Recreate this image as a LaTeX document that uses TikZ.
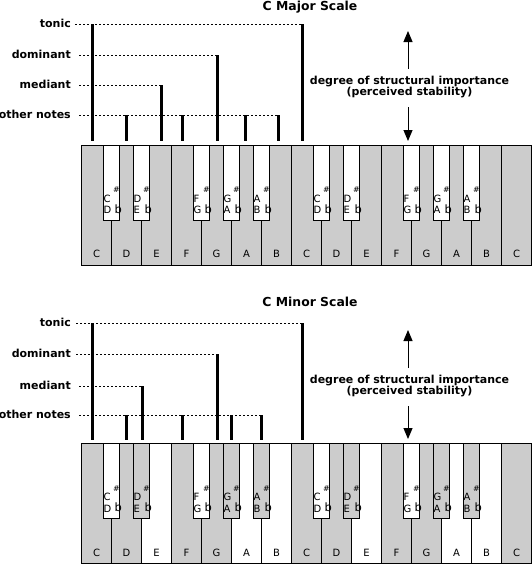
\documentclass[tikz,border=0pt]{standalone}
\usepackage{fontspec}
\setmainfont{DejaVu Sans}
\usetikzlibrary{arrows.meta}
\newcommand\pianokeys[4]{%
  \foreach \n/\s [count=\i from 0] in {#3} {
    \node[whitekey,\s] (#1w\i) at ({81.5+30*\i},#2) {};
  }
  \foreach \n/\s [count=\i from 0] in {#3} {
    \node[keyletter,anchor=base] (#1wl\i) at ({96.5+30*\i},#2+112.5) {\n};
  }
  \foreach \k/\u/\l/\s in {#4} {
    \node[blackkey,\s] (#1b\k) at ({81.5+30*\k},#2) {};
    \node[keyletter,anchor=base west] (#1bu\k) at ({73.5+30*\k},#2+57) {\u};
    \node[keyletter,anchor=base west] (#1bl\k) at ({73.5+30*\k},#2+68.5) {\l};
    \node[sharpsign] (#1bs\k) at ({86.5+30*\k},#2+45) {\#};
    \node[flatsign,anchor=base west] (#1bf\k) at ({84.5+30*\k},#2+68) {b};
  }
}
\begin{document}
\begin{tikzpicture}[x=1pt,y=-1pt,
  shadedkey/.style={draw=black,line width=0.9pt,fill=black!20},
  plainkey/.style={draw=black,line width=0.9pt,fill=white},
  whitekey/.style={minimum width=30pt,minimum height=120pt,anchor=north west,inner sep=0pt,outer sep=0pt},
  blackkey/.style={minimum width=16pt,minimum height=75pt,anchor=north,inner sep=0pt,outer sep=0pt},
  keyletter/.style={font=\fontsize{10}{10}\selectfont,inner sep=0pt},
  sharpsign/.style={font=\fontsize{8}{8}\selectfont,inner sep=0pt},
  flatsign/.style={font=\fontsize{11.5}{11.5}\selectfont,inner sep=0pt},
  levellabel/.style={font=\bfseries\fontsize{11}{11}\selectfont,inner sep=0pt,anchor=base east},
  titletext/.style={font=\bfseries\fontsize{12.4}{13}\selectfont,inner sep=0pt,anchor=base},
  axistext/.style={font=\bfseries\fontsize{11}{11}\selectfont,inner sep=0pt,anchor=base},
  bar/.style={line width=3pt},
  guide/.style={line width=1pt,dash pattern=on 2pt off 2pt},
  arr/.style={line width=1pt,-{Triangle[width=9pt,length=11pt]}},
]
\useasboundingbox (0,0) rectangle (532,565);

% ---------------- C Major ----------------
\node[titletext] (Mtitle) at (310,10) {C Major Scale};
\pianokeys{M}{145}{C/shadedkey,D/shadedkey,E/shadedkey,F/shadedkey,G/shadedkey,A/shadedkey,B/shadedkey,C/shadedkey,D/shadedkey,E/shadedkey,F/shadedkey,G/shadedkey,A/shadedkey,B/shadedkey,C/shadedkey}{1/C/D/plainkey,2/D/E/plainkey,4/F/G/plainkey,5/G/A/plainkey,6/A/B/plainkey,8/C/D/plainkey,9/D/E/plainkey,11/F/G/plainkey,12/G/A/plainkey,13/A/B/plainkey}

\foreach \x/\y [count=\j] in {92.3/24,126.7/115,161/85,182.7/115,217/55,245.7/115,278.7/115,302.7/24} {
  \coordinate (Mt\j) at (\x,\y);
  \coordinate (Mb\j) at (\x,141);
  \draw[bar] (Mt\j) -- (Mb\j);
}
\node[levellabel] (Mtonic) at (71,27.5) {tonic};
\node[levellabel] (Mdom) at (71,58.5) {dominant};
\node[levellabel] (Mmed) at (71,88.5) {mediant};
\node[levellabel] (Moth) at (71,118.5) {other notes};
\draw[guide] ([xshift=4pt]Mtonic.east |- Mt8) -- (Mt8);
\draw[guide] ([xshift=8pt]Mdom.east |- Mt5) -- (Mt5);
\draw[guide] ([xshift=8pt]Mmed.east |- Mt3) -- (Mt3);
\draw[guide] ([xshift=8pt]Moth.east |- Mt7) -- (Mt7);

\node[axistext] (Max1) at (409.5,84) {degree of structural importance};
\node[axistext] (Max2) at (409.5,95) {(perceived stability)};
\coordinate (Mupfrom) at (408,69);
\coordinate (Mupto) at (408,31);
\coordinate (Mdnfrom) at (408,107);
\coordinate (Mdnto) at (408,141);
\draw[arr] (Mupfrom) -- (Mupto);
\draw[arr] (Mdnfrom) -- (Mdnto);

% ---------------- C Minor ----------------
\node[titletext] (Ntitle) at (310,306.5) {C Minor Scale};
\pianokeys{N}{443.5}{C/shadedkey,D/shadedkey,E/plainkey,F/shadedkey,G/shadedkey,A/plainkey,B/plainkey,C/shadedkey,D/shadedkey,E/plainkey,F/shadedkey,G/shadedkey,A/plainkey,B/plainkey,C/shadedkey}{1/C/D/plainkey,2/D/E/shadedkey,4/F/G/plainkey,5/G/A/shadedkey,6/A/B/shadedkey,8/C/D/plainkey,9/D/E/shadedkey,11/F/G/plainkey,12/G/A/shadedkey,13/A/B/shadedkey}

\foreach \x/\y [count=\j] in {92.3/323,126.7/415,142.3/386,182.7/415,217/354,231/415,261.7/415,302.7/323} {
  \coordinate (Nt\j) at (\x,\y);
  \coordinate (Nb\j) at (\x,439.5);
  \draw[bar] (Nt\j) -- (Nb\j);
}
\node[levellabel] (Ntonic) at (71,326.5) {tonic};
\node[levellabel] (Ndom) at (71,357.5) {dominant};
\node[levellabel] (Nmed) at (71,389.5) {mediant};
\node[levellabel] (Noth) at (71,418.5) {other notes};
\draw[guide] ([xshift=5pt]Ntonic.east |- Nt8) -- (Nt8);
\draw[guide] ([xshift=5pt]Ndom.east |- Nt5) -- (Nt5);
\draw[guide] ([xshift=8pt]Nmed.east |- Nt3) -- (Nt3);
\draw[guide] ([xshift=8pt]Noth.east |- Nt7) -- (Nt7);

\node[axistext] (Nax1) at (409.5,383) {degree of structural importance};
\node[axistext] (Nax2) at (409.5,394) {(perceived stability)};
\coordinate (Nupfrom) at (408,368);
\coordinate (Nupto) at (408,330);
\coordinate (Ndnfrom) at (408,406);
\coordinate (Ndnto) at (408,439);
\draw[arr] (Nupfrom) -- (Nupto);
\draw[arr] (Ndnfrom) -- (Ndnto);
\end{tikzpicture}
\end{document}
